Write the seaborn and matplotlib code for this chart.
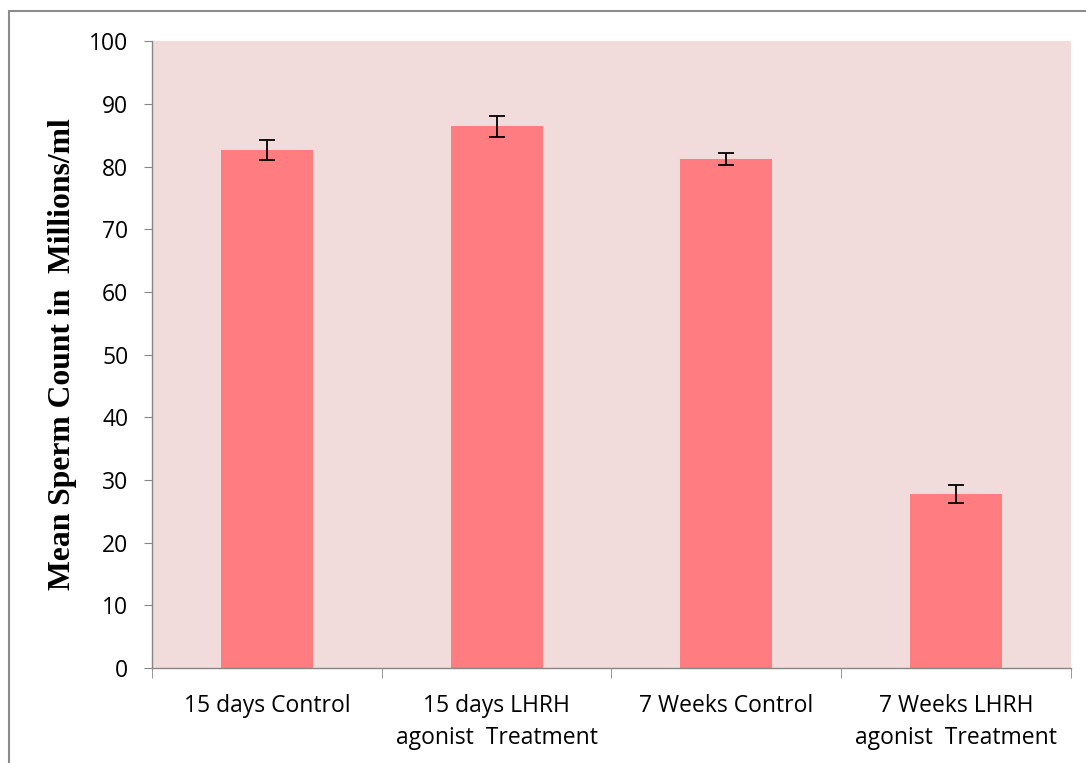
# Mean sperm count bar chart with SE error bars
import matplotlib
matplotlib.use('Agg')
import matplotlib.pyplot as plt
import pandas as pd
import seaborn as sns

# Data
groups = ['15 days Control', '15 days LHRH\nagonist  Treatment',
          '7 Weeks Control', '7 Weeks LHRH\nagonist  Treatment']
means = [82.6, 86.4, 81.2, 27.8]
errors = [1.6, 1.65, 1.0, 1.45]
y_ticks = [0, 10, 20, 30, 40, 50, 60, 70, 80, 90, 100]

df = pd.DataFrame({'group': groups, 'mean': means})

sns.set_style('white')
plt.rcParams['font.family'] = ['Open Sans', 'DejaVu Sans']
plt.rcParams['text.color'] = 'black'
plt.rcParams['xtick.color'] = 'black'
plt.rcParams['ytick.color'] = 'black'

fig = plt.figure(figsize=(10.86, 7.63), dpi=100)
ax = fig.add_axes([0.14, 0.1245, 0.846, 0.8215])
ax.set_facecolor('#F2DCDB')

sns.barplot(data=df, x='group', y='mean', color='#FF7C80', width=0.4,
            saturation=1, ax=ax, errorbar=None, linewidth=0)
ax.errorbar(range(len(groups)), means, yerr=errors, fmt='none',
            ecolor='black', elinewidth=1.3, capsize=5.5, capthick=1.3)

ax.set_ylim(0, 100)
ax.set_xlim(-0.5, len(groups) - 0.5)
ax.set_yticks(y_ticks)
ax.set_xlabel('')
ax.set_ylabel('Mean Sperm Count in  Millions/ml', family='Liberation Serif',
              fontweight='bold', fontsize=22.8, labelpad=9, color='black')

# spines and ticks like the original office chart
for side in ['top', 'right']:
    ax.spines[side].set_visible(False)
for side in ['left', 'bottom']:
    ax.spines[side].set_color('#868686')
    ax.spines[side].set_linewidth(1)
ax.tick_params(axis='y', direction='out', length=6, color='#868686',
               labelcolor='black', labelsize=16.5, pad=11, left=True)
ax.tick_params(axis='x', which='major', length=0, labelsize=16.5, pad=18.5,
               labelcolor='black')
for lbl in ax.get_xticklabels():
    lbl.set_linespacing(1.45)
ax.set_xticks([i - 0.5 for i in range(len(groups) + 1)], minor=True)
ax.tick_params(axis='x', which='minor', direction='out', length=7,
               color='#868686', bottom=True)

# outer chart border (only top and left visible in the original crop)
fig.add_artist(plt.Line2D([0.0083, 1.0], [0.9856, 0.9856], color='#8c8c8c',
                          lw=1.5, transform=fig.transFigure))
fig.add_artist(plt.Line2D([0.0083, 0.0083], [0.0, 0.9856], color='#8c8c8c',
                          lw=1.5, transform=fig.transFigure))

fig.savefig('out.png', dpi=100)
